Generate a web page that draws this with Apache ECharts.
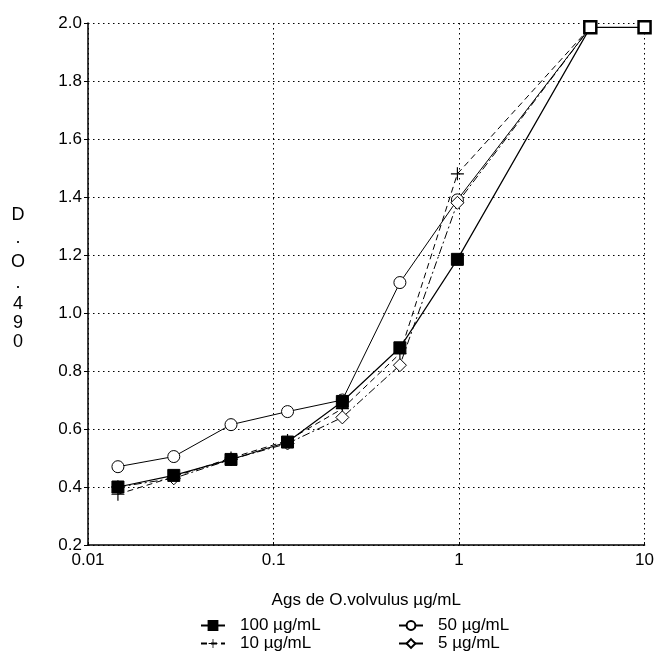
<!DOCTYPE html>
<html><head><meta charset="utf-8">
<script src="https://cdn.jsdelivr.net/npm/echarts@6/dist/echarts.min.js"></script>
<style>html,body{margin:0;padding:0;background:#fff}#c{width:657px;height:670px}</style>
</head><body><div id="c"></div>
<script>
// Concentrations of O. volvulus antigen (µg/mL)
const xValues = [0.0145, 0.029, 0.059, 0.119, 0.235, 0.48, 0.98, 5.1, 10];
const s100 = [0.40, 0.44, 0.495, 0.555, 0.695, 0.88, 1.185, 1.985, 1.985];
const s50  = [0.47, 0.505, 0.615, 0.66, 0.70, 1.105, 1.39, 1.985];
const s10  = [0.375, 0.435, 0.50, 0.56, 0.67, 0.86, 1.48, 1.985];
const s5   = [0.40, 0.43, 0.495, 0.55, 0.64, 0.82, 1.38, 1.985];
const seriesNames = ['100 µg/mL', '50 µg/mL', '10 µg/mL', '5 µg/mL'];
const yTicks = [0.2, 0.4, 0.6, 0.8, 1.0, 1.2, 1.4, 1.6, 1.8, 2.0];
const xTicks = [0.01, 0.1, 1, 10];
const yTitleChars = ['D', '.', 'O', '.', '4', '9', '0'];
const xTitle = 'Ags de O.volvulus µg/mL';

const FONT = 'Liberation Sans, Arial, sans-serif';
function pairs(vals) { return vals.map((v, i) => [xValues[i], v]); }
const plusPath = 'path://M0,4.55H10V5.45H0Z M4.55,0H5.45V10H4.55Z';
const yTitleCenters = [215, 238, 262, 283, 304, 323, 342];

const chart = echarts.init(document.getElementById('c'));
chart.setOption({
  animation: false,
  backgroundColor: '#fff',
  grid: { left: 88, right: 10, top: 23, bottom: 125 },
  xAxis: {
    type: 'log', logBase: 10, min: 0.01, max: 10,
    name: xTitle, nameLocation: 'middle', nameGap: 47,
    nameTextStyle: { fontFamily: FONT, fontSize: 17, color: '#000' },
    axisLine: { show: true, onZero: false, lineStyle: { color: '#000', width: 1.5 } },
    axisTick: { show: true, inside: true, length: 3, lineStyle: { color: '#000' } },
    minorTick: { show: false },
    axisLabel: { fontFamily: FONT, fontSize: 17, color: '#000', margin: 7,
      formatter: v => { const t = xTicks.find(x => Math.abs(x - v) / x < 1e-6); return t === undefined ? '' : String(t); } },
    splitLine: { show: true, lineStyle: { color: '#000', type: [1.5, 3.5], width: 1 } }
  },
  yAxis: {
    type: 'value', min: 0.2, max: 2.0, interval: 0.2,
    axisLine: { show: true, onZero: false, lineStyle: { color: '#000', width: 1.5 } },
    axisTick: { show: true, inside: false, length: 4, lineStyle: { color: '#000' } },
    axisLabel: { fontFamily: FONT, fontSize: 17, color: '#000', margin: 6,
      formatter: v => { const t = yTicks.find(y => Math.abs(y - v) < 1e-6); return t === undefined ? '' : t.toFixed(1); } },
    splitLine: { show: true, lineStyle: { color: '#000', type: [1.5, 3.5], width: 1 } }
  },
  legend: [
    { data: [seriesNames[0], seriesNames[2]], orient: 'vertical', left: 195, top: 612,
      itemWidth: 24, itemHeight: 11, itemGap: 1,
      textStyle: { fontFamily: FONT, fontSize: 17, color: '#000', padding: [0, 0, 0, 10] } },
    { data: [seriesNames[1], seriesNames[3]], orient: 'vertical', left: 393, top: 612,
      itemWidth: 24, itemHeight: 11, itemGap: 1,
      textStyle: { fontFamily: FONT, fontSize: 17, color: '#000', padding: [0, 0, 0, 10] } }
  ],
  graphic: yTitleChars.map((ch, i) => ({
    type: 'text', x: 18, y: yTitleCenters[i],
    style: { text: ch, fontFamily: FONT, fontSize: 18, fill: '#000', align: 'center', verticalAlign: 'middle' }
  })),
  series: [
    { name: seriesNames[1], type: 'line', data: pairs(s50), z: 3,
      symbol: 'circle', symbolSize: 12,
      itemStyle: { color: '#fff', borderColor: '#000', borderWidth: 1 },
      lineStyle: { color: '#000', width: 1 } },
    { name: seriesNames[2], type: 'line', data: pairs(s10), z: 3,
      symbol: plusPath, symbolSize: 13,
      itemStyle: { color: '#000', borderColor: '#000', borderWidth: 0 },
      lineStyle: { color: '#000', width: 1, type: [6, 4] } },
    { name: seriesNames[3], type: 'line', data: pairs(s5), z: 3,
      symbol: 'diamond', symbolSize: 13,
      itemStyle: { color: '#fff', borderColor: '#000', borderWidth: 1 },
      lineStyle: { color: '#000', width: 1, type: [8, 3, 2, 3] } },
    { name: seriesNames[0], type: 'line', z: 5,
      data: pairs(s100).map(p => p[1] >= 1.98
        ? { value: p, itemStyle: { color: '#fff', borderColor: '#000', borderWidth: 2.5 } }
        : p),
      symbol: 'rect', symbolSize: 12,
      itemStyle: { color: '#000', borderColor: '#000', borderWidth: 1 },
      lineStyle: { color: '#000', width: 1.2 } }
  ]
});
</script></body></html>
